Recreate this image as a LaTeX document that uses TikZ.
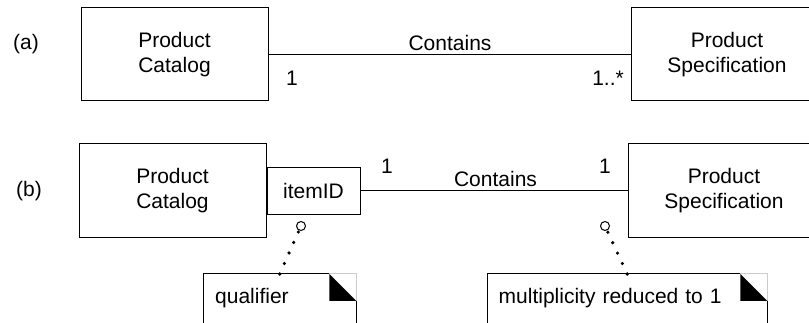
\documentclass[tikz,border=0pt]{standalone}
\usepackage{fontspec}
\setmainfont{Liberation Sans}
\usepackage{tikz}
\newcommand\umlfont{\fontsize{21}{25}\selectfont}
\tikzset{
  classbox/.style={draw, line width=1pt, align=center, inner sep=0pt, font=\umlfont,
    execute at begin node={\rule{0pt}{19.5pt}}},
  itembox/.style={draw, line width=1pt, inner sep=0pt, font=\umlfont},
  lbl/.style={inner sep=0pt, font=\umlfont},
  assoc/.style={line width=1pt},
  notebox/.style={anchor=north west, align=left, font=\umlfont, inner xsep=12pt,
    inner ysep=14pt, text height=15pt, text depth=30pt},
  anchorring/.style={circle, draw, line width=1pt, minimum size=9pt, inner sep=0pt},
  dotlink/.style={line width=3.6pt, line cap=round, dash pattern=on 0pt off 11.5pt}
}
\begin{document}
\begin{tikzpicture}[x=1pt, y=-1pt]
\useasboundingbox (0,0) rectangle (809,323);
\node[lbl, anchor=base west] (tagA) at (13,50) {(a)};
\node[classbox, minimum width=187pt, minimum height=93pt] (catA) at (174.5,54.5) {Product\\Catalog};
\node[classbox, minimum width=192pt, minimum height=93pt] (specA) at (727,54.5) {Product\\Specification};
\draw[assoc] (catA) -- (specA);
\node[lbl, anchor=base] (contA) at (450,51) {Contains};
\node[lbl, anchor=base west] (oneA) at (286,86) {1};
\node[lbl, anchor=base east] (manyA) at (624,86) {1..*};
\node[lbl, anchor=base west] (tagB) at (16,197) {(b)};
\node[classbox, minimum width=187pt, minimum height=94pt] (catB) at (172.5,191) {Product\\Catalog};
\node[itembox, minimum width=93pt, minimum height=47pt, anchor=west] (itemid) at (catB.east) {itemID};
\node[classbox, minimum width=192pt, minimum height=94pt] (specB) at (724,191) {Product\\Specification};
\draw[assoc] (itemid) -- (specB);
\node[lbl, anchor=base] (contB) at (495.5,187) {Contains};
\node[lbl, anchor=base west] (oneB) at (381,174) {1};
\node[lbl, anchor=base east] (oneC) at (611,174) {1};
\node[notebox, text width=129pt] (qual) at (203,274) {qualifier};
\node[notebox, text width=257pt, inner xsep=11.5pt] (mult) at (487,274) {multiplicity reduced to 1};
\foreach \n in {qual,mult}{
  \draw[line width=1pt] (\n.south west) -- (\n.north west) -- ([xshift=-27pt]\n.north east);
  \draw[line width=1pt] (\n.south east) -- ([yshift=-27pt]\n.north east);
  \draw[gray!40, line width=1pt] ([xshift=-27pt]\n.north east) -- (\n.north east) -- ([yshift=-27pt]\n.north east);
  \fill ([xshift=-27pt]\n.north east) -- ([xshift=-27pt,yshift=-27pt]\n.north east) -- ([yshift=-27pt]\n.north east) -- cycle;
}
\node[anchorring] (ringQ) at (301,226) {};
\node[anchorring] (ringM) at (605,226) {};
\draw[dotlink] (qual.north) -- (ringQ);
\draw[dotlink] (mult.north) -- (ringM);
\end{tikzpicture}
\end{document}
